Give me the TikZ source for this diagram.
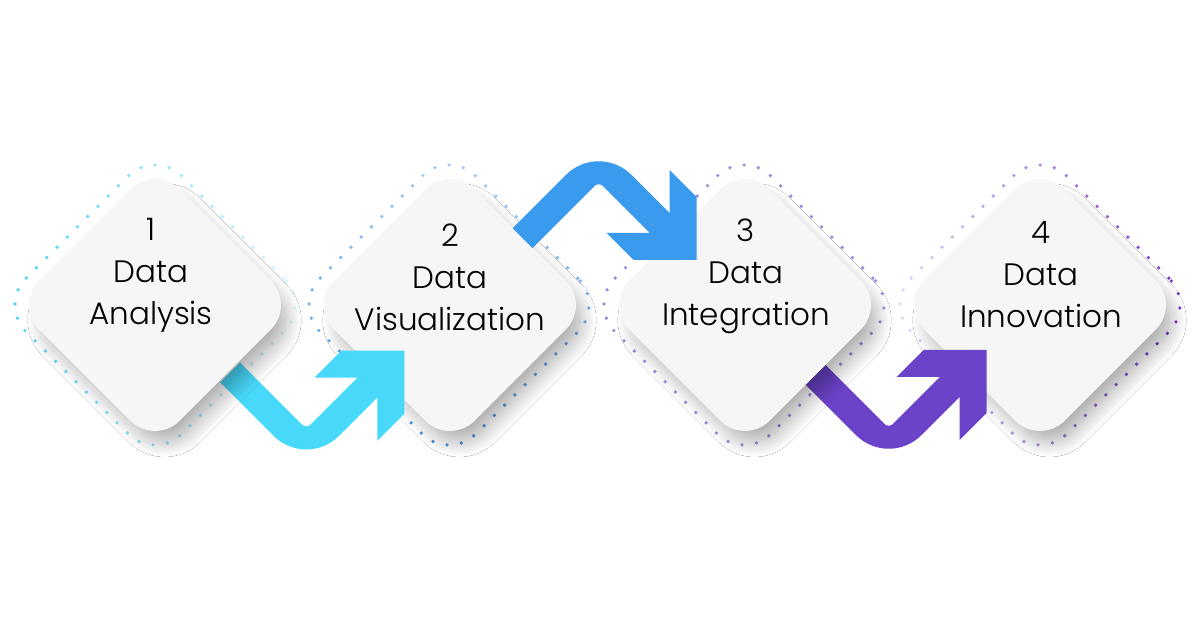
\documentclass[tikz,border=0pt]{standalone}
\usepackage{fontspec}
\newfontfamily\lblfont{Poppins Light}
\usetikzlibrary{shapes.geometric,shadows.blur,fadings}
\definecolor{cyanA}{HTML}{48D9FA}
\definecolor{blueA}{HTML}{3A9BEE}
\definecolor{purpA}{HTML}{6A43C8}
\definecolor{dotA}{HTML}{3FD2F6}
\definecolor{dotB}{HTML}{3D8FE5}
\definecolor{dotC}{HTML}{7B52D6}
\definecolor{dotD}{HTML}{6A2DCC}
\definecolor{tilegray}{HTML}{F6F6F6}
\tikzfading[name=fadeE, left color=transparent!0, right color=transparent!85]
\tikzfading[name=fadeW, left color=transparent!85, right color=transparent!0]
\tikzfading[name=fadeN, top color=transparent!55, bottom color=transparent!0]
\tikzset{
  tile/.style={diamond, minimum width=281pt, minimum height=281pt, inner sep=0pt,
    rounded corners=35pt, fill=tilegray,
    blur shadow={shadow xshift=10pt, shadow yshift=-16pt, shadow scale=0.95,
      shadow blur radius=18pt, shadow blur steps=30, shadow opacity=36}},
  ring/.style={diamond, minimum width=313pt, minimum height=313pt, inner sep=0pt,
    rounded corners=38pt, line width=3.6pt, line cap=round, dash pattern=on 0pt off 14.5pt},
  lbl/.style={font=\lblfont\fontsize{31}{42}\selectfont, align=center, inner sep=0pt,
    anchor=north, text=black},
  flowarrow/.pic={
    \fill[#1] (0,0) -- (-63,0) -- (-90,27) -- (-46.8,27)
      -- (-93.76,73.96) .. controls (-96.1,76.3) and (-99.9,76.3) .. (-102.24,73.96)
      -- (-164.3,11.9) -- (-184.1,31.7)
      -- (-130.53,85.27) .. controls (-112.57,103.23) and (-83.43,103.23) .. (-65.47,85.27)
      -- (-27,46.8) -- (-27,90) -- (0,63) -- cycle;
  }
}
\begin{document}
\begin{tikzpicture}[x=1pt,y=-1pt]
\fill[white] (0,0) rectangle (1200,628);
\useasboundingbox (0,0) rectangle (1200,628);
% dotted outlines
\node[ring, draw=dotA, path fading=fadeE] (o1) at (155,305) {};
\node[ring, draw=dotB, path fading=fadeN] (o2) at (449,305) {};
\node[ring, draw=dotC, draw opacity=0.7] (o3) at (744,305) {};
\node[ring, draw=dotD, path fading=fadeW] (o4) at (1040,305) {};
% tiles and arrows
\node[tile] (d4) at (1040,305) {};
\pic (a3) at (986.7,350) {flowarrow=purpA};
\node[tile] (d3) at (745,305) {};
\node[tile] (d2) at (450,305) {};
\pic[yscale=-1] (a2) at (696.7,260) {flowarrow=blueA};
\pic (a1) at (404.3,350.7) {flowarrow=cyanA};
\node[tile] (d1) at (155,305) {};
% labels
\node[lbl] (t1) at (151,218.5) {1\\Data\\Analysis};
\node[lbl] (t2) at (450,223.5) {2\\Data\\Visualization};
\node[lbl] (t3) at (746,218.5) {3\\Data\\Integration};
\node[lbl] (t4) at (1041,221.5) {4\\Data\\Innovation};
\end{tikzpicture}
\end{document}
